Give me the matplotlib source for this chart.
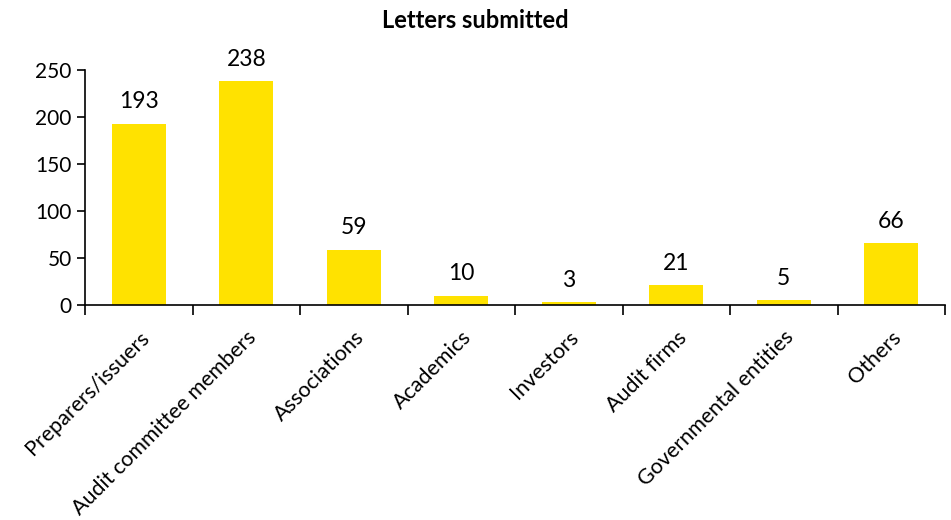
import numpy as np
import matplotlib.pyplot as plt

# Data -----------------------------------------------------------------
categories = ["Preparers/issuers", "Audit committee members", "Associations",
              "Academics", "Investors", "Audit firms",
              "Governmental entities", "Others"]
letters = [193, 238, 59, 10, 3, 21, 5, 66]

plt.rcParams["font.family"] = ["Lato", "DejaVu Sans"]

fig = plt.figure(figsize=(9.51, 5.2), dpi=100)
ax = fig.add_axes([85/951, 1 - 305/520, 860/951, 235/520])

x = np.arange(len(categories))
ax.bar(x, letters, width=0.5, color="#FFE200")

for xi, v in zip(x, letters):
    ax.text(xi, v + 12, str(v), ha="center", va="bottom", fontsize=16.5)

ax.set_xlim(-0.5, len(categories) - 0.5)
ax.set_ylim(0, 250)
ax.set_yticks(range(0, 251, 50))
ax.tick_params(axis="y", labelsize=15, length=6, width=1.2, direction="out")

# category boundaries as ticks, labels at the centres
ax.set_xticks(np.arange(-0.5, len(categories) + 0.5, 1))
ax.set_xticklabels([])
ax.set_xticks(x, minor=True)
ax.set_xticklabels(categories, minor=True, rotation=45, ha="right",
                   rotation_mode="anchor", fontsize=15.5)
ax.tick_params(axis="x", which="major", length=7, width=1.2, direction="out")
ax.tick_params(axis="x", which="minor", length=0, pad=16)

for s in ["top", "right"]:
    ax.spines[s].set_visible(False)
for s in ["left", "bottom"]:
    ax.spines[s].set_linewidth(1.2)

fig.text(0.5, 1 - 20/520, "Letters submitted", ha="center", va="center",
         fontsize=17, fontweight="bold")

fig.savefig("out.png", dpi=100)
